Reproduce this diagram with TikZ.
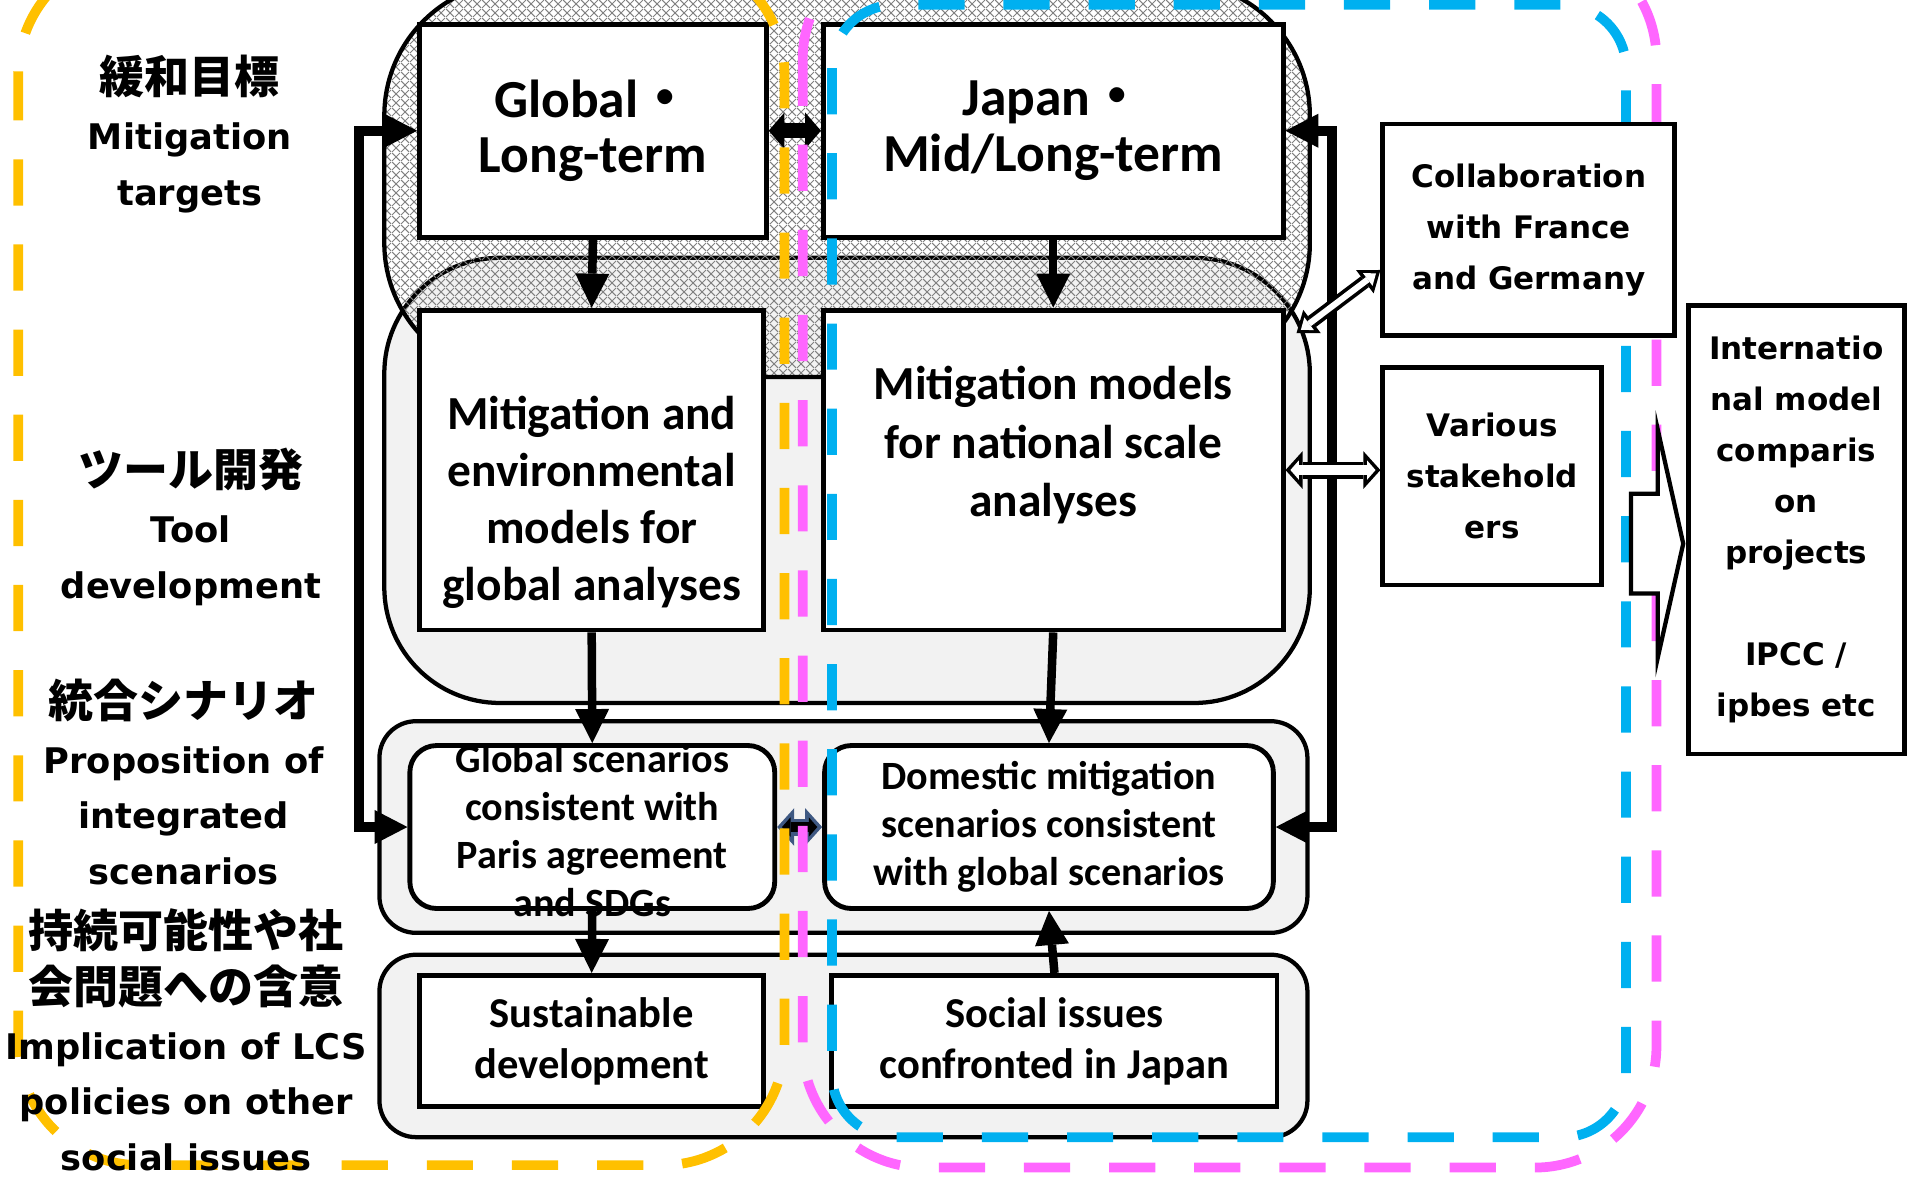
\documentclass[tikz,border=0pt]{standalone}
\usepackage{fontspec}
\usepackage{tikz}
\usetikzlibrary{arrows.meta, calc, patterns.meta}

\newfontfamily\boxfont{Carlito}
\newfontfamily\gothfont{DejaVu Sans}
\newfontfamily\jpfont{Noto Sans CJK JP}

\definecolor{panelgray}{RGB}{242,242,242}
\definecolor{loopyellow}{RGB}{255,192,0}
\definecolor{looppink}{RGB}{255,102,255}
\definecolor{loopblue}{RGB}{0,176,240}
\definecolor{linknavy}{RGB}{62,88,130}

\newcommand{\jpline}{\jpfont\bfseries\fontsize{37}{46}\selectfont}
\newcommand{\middot}{{\jpfont ・}}

\tikzdeclarepattern{
  name=diaghatch,
  type=uncolored,
  bounding box={(0pt,0pt) and (7pt,7pt)},
  tile size={(7pt,7pt)},
  code={
    \draw[line width=0.9pt] (0pt,0pt) -- (7pt,7pt);
    \draw[line width=0.9pt] (0pt,7pt) -- (7pt,0pt);
  }
}

\tikzset{
  mainbox/.style={draw, line width=4pt, fill=white, inner sep=0pt, align=center, font=\boxfont\bfseries},
  roundbox/.style={mainbox, rounded corners=22pt},
  boxsize/.style 2 args={font=\boxfont\bfseries\fontsize{#1}{#2}\selectfont},
  panel/.style={draw, line width=3.5pt, fill=panelgray, inner sep=0pt},
  sidebox/.style={draw, line width=4pt, fill=white, inner sep=0pt, align=center,
    font=\gothfont\bfseries\fontsize{25.5}{42}\selectfont},
  sidelabel/.style={inner sep=0pt, align=center, font=\gothfont\bfseries\fontsize{29}{46}\selectfont},
  flowarrow/.style={line width=7pt, -{Triangle[length=28pt,width=28pt,line width=0pt]}},
  bothflow/.style={line width=12pt, {Triangle[length=13pt,width=30pt,line width=0pt]}-{Triangle[length=13pt,width=30pt,line width=0pt]}},
  looparrow/.style={line width=8pt, {Triangle[length=27pt,width=28pt,line width=0pt]}-{Triangle[length=27pt,width=28pt,line width=0pt]}},
  hollowarrow/.style={line width=14pt,
    {Triangle[length=14pt,width=31pt,line width=0pt]}-{Triangle[length=14pt,width=31pt,line width=0pt]},
    postaction={draw=#1, line width=8pt, shorten <=4pt, shorten >=4pt,
      {Triangle[length=7pt,width=16pt,line width=0pt]}-{Triangle[length=7pt,width=16pt,line width=0pt]}}},
  hollowarrow/.default=white,
  slimarrow/.style={line width=11pt,
    {Triangle[length=16pt,width=24pt,line width=0pt]}-{Triangle[length=16pt,width=24pt,line width=0pt]},
    postaction={draw=white, line width=5pt, shorten <=4.5pt, shorten >=4.5pt,
      {Triangle[length=8.5pt,width=13pt,line width=0pt]}-{Triangle[length=8.5pt,width=13pt,line width=0pt]}}},
  dashloop/.style={line width=8pt, dash pattern=on 38pt off 32pt}
}

\begin{document}
\begin{tikzpicture}[x=1pt, y=-1pt]
    \useasboundingbox (0,0) rectangle (1568,968);

    % Panels
    \node[panel, minimum width=761pt, minimum height=366pt, rounded corners=95pt] (toolpanel) at (696.5,395) {};
    \node[draw, line width=3.5pt, pattern=diaghatch, pattern color=black!50, inner sep=0pt,
        minimum width=761pt, minimum height=325pt, rounded corners=110pt] (targetpanel) at (696.5,147.5) {};
    \node[panel, minimum width=763pt, minimum height=174pt, rounded corners=30pt] (scenpanel) at (693.5,680) {};
    \node[panel, minimum width=763pt, minimum height=150pt, rounded corners=30pt] (socpanel) at (693.5,860) {};

    % Nodes
    \node[mainbox, boxsize={44}{46}, minimum width=285pt, minimum height=175pt] (glob) at (487.5,107.5) {Global\middot\\Long-term};
    \node[mainbox, boxsize={44}{46}, minimum width=378pt, minimum height=175pt] (jap) at (866,107.5) {Japan\middot\\Mid/Long-term};
    \node[mainbox, minimum width=283pt, minimum height=263pt] (glmod) at (486.5,386.5) {};
    \node[mainbox, minimum width=378pt, minimum height=263pt] (natmod) at (866,386.5) {};
    \node[roundbox, minimum width=300pt, minimum height=134pt] (gscen) at (487,680) {};
    \node[roundbox, boxsize={33}{39.5}, minimum width=369pt, minimum height=134pt] (dscen) at (862.5,680) {Domestic mitigation\\scenarios consistent\\with global scenarios};
    \node[mainbox, boxsize={35}{42}, minimum width=283pt, minimum height=108pt] (sust) at (486.5,856) {Sustainable\\development};
    \node[mainbox, boxsize={35}{42}, minimum width=366pt, minimum height=108pt] (socis) at (867,856) {Social issues\\confronted in Japan};

    % Texts set off centre in their boxes
    \node[boxsize={39}{47}, align=center, inner sep=0pt] (glmodtext) at (486.5,413) {Mitigation and\\environmental\\models for\\global analyses};
    \node[boxsize={39}{48}, align=center, inner sep=0pt] (natmodtext) at (866,366) {Mitigation models\\for national scale\\analyses};
    \node[boxsize={33}{39.5}, align=center, inner sep=0pt] (gscentext) at (487,683) {Global scenarios\\consistent with\\Paris agreement\\and SDGs};

    % Arrows
    \draw[flowarrow] (glob.south) -- (glmod.north);
    \draw[flowarrow] (jap.south) -- (natmod.north);
    \draw[flowarrow] (glmod.south) -- (gscen.north);
    \draw[flowarrow] (natmod.south) -- (dscen.north);
    \draw[flowarrow] (gscen.south) -- (sust.north);
    \draw[flowarrow] (socis.north) -- (dscen.south);
    \draw[bothflow] (glob.east) -- (jap.west);
    \draw[hollowarrow=black, draw=linknavy] (gscen.east) -- (dscen.west);

    \draw[looparrow] (glob.west) -- ++(-48,0) |- (gscen.west);
    \draw[looparrow] (jap.east) -- ++(38,0) |- (dscen.east);

    % Dashed groups
    \draw[dashloop, loopyellow, rounded corners=100pt] (15,-39) rectangle (645,958);
    \draw[dashloop, looppink, rounded corners=100pt] (660,-51) rectangle (1362,960);
    \draw[dashloop, loopblue, rounded corners=52pt] (684,4) rectangle (1337,935);

    % Partners
    \node[sidebox, minimum width=240pt, minimum height=174pt] (collab) at (1257,189) {Collaboration\\with France\\and Germany};
    \node[sidebox, minimum width=180pt, minimum height=179pt] (various) at (1227,391.5) {Various\\stakehold\\ers};
    \node[sidebox, minimum width=178pt, minimum height=369pt] (intl) at (1477,435.5) {Internatio\\nal model\\comparis\\on\\projects\\[42pt]IPCC /\\ipbes etc};

    \coordinate (panelport) at (1066,274);
    \draw[slimarrow] (panelport) -- ([yshift=-33pt]collab.west);
    \draw[hollowarrow] (natmod.east) -- (natmod.east -| various.west);

    \coordinate (intltip) at ([xshift=-2pt, yshift=-11.5pt]intl.west);
    \draw[line width=3.5pt, fill=white] (intltip) -- ++(-21,-94) -- ++(0,53) -- ++(-22,0)
        -- ++(0,82) -- ++(22,0) -- ++(0,53) -- cycle;

    % Row labels
    \node[sidelabel] (lbltarget) at (156,110) {{\jpline 緩和目標}\\Mitigation\\targets};
    \node[sidelabel] (lbltool) at (157,433) {{\jpline ツール開発}\\Tool\\development};
    \node[sidelabel] (lblscen) at (151,643) {{\jpline 統合シナリオ}\\Proposition of\\integrated\\scenarios};
    \node[sidelabel] (lblsocial) at (153,855) {{\jpline 持続可能性や社}\\{\jpline 会問題への含意}\\Implication of LCS\\policies on other\\social issues};

\end{tikzpicture}
\end{document}
